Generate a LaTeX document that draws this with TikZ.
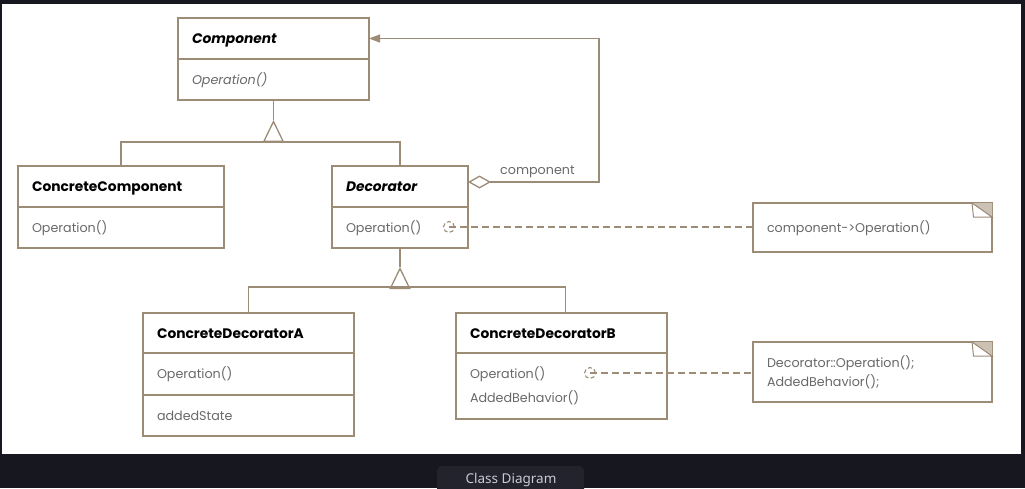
\documentclass[tikz,border=0pt]{standalone}
\usepackage{fontspec}
\setmainfont{Poppins}
\newfontfamily\capfont{Noto Sans}
\usetikzlibrary{positioning,arrows.meta}
\definecolor{umlline}{RGB}{156,139,117}
\definecolor{umlfold}{RGB}{203,193,181}
\definecolor{umltext}{RGB}{105,105,105}
\definecolor{pagebg}{RGB}{22,23,31}
\definecolor{tabbg}{RGB}{34,35,44}
\definecolor{captext}{RGB}{200,202,212}
\begin{document}
\begin{tikzpicture}[x=1pt,y=-1pt,font=\fontsize{12.7}{14}\selectfont]
\tikzstyle{classname} = [rectangle, draw=umlline, line width=1.3pt, outer sep=0pt, anchor=north west, minimum height=41pt, inner xsep=14pt, text height=10pt, text depth=0pt, align=left, text=black, font=\fontsize{13.8}{15}\selectfont\bfseries]
\tikzstyle{abstract} = [font=\fontsize{13.8}{15}\selectfont\bfseries\itshape]
\tikzstyle{classpart} = [rectangle, draw=umlline, line width=1.3pt, outer sep=0pt, minimum height=41pt, inner xsep=14pt, text height=9pt, text depth=0pt, align=left, text=umltext]
\tikzstyle{note} = [rectangle, draw=umlline, line width=1.3pt, outer sep=0pt, anchor=north west, inner xsep=14pt, text height=9pt, text depth=0pt, align=left, text=umltext, text width=211pt]
\tikzstyle{callpt} = [circle, draw=umlline, dash pattern=on 4pt off 2.5pt, line width=1.1pt, minimum size=11pt, inner sep=0pt]
\tikzstyle{link} = [draw=umlline, line width=1.3pt]
\tikzstyle{inherit} = [link, -{Triangle[open, length=22pt, width=21pt]}]
\tikzstyle{calllink} = [draw=umlline, line width=1.2pt, dash pattern=on 7pt off 4pt]
% frame and caption tab
\clip (0,0) rectangle (1025,488);
\fill[pagebg] (0,0) rectangle (1025,488);
\fill[white] (2,4) rectangle (1021,454);
\fill[tabbg, rounded corners=5pt] (437,466) rectangle (584,500);
\node (caption) [anchor=base, text=captext, font=\capfont\fontsize{13.5}{16}\selectfont] at (511,483) {Class Diagram};
% classes
\node (comp) [classname, abstract, text width=163pt] at (178,18) {Component};
\node (compops) [classpart, text width=163pt, below=0pt of comp, font=\fontsize{12.7}{14}\selectfont\itshape] {Operation()};
\node (cc) [classname, text width=178pt] at (18,166) {ConcreteComponent};
\node (ccops) [classpart, text width=178pt, below=0pt of cc] {Operation()};
\node (deco) [classname, abstract, text width=108pt] at (332,166) {Decorator};
\node (decoops) [classpart, text width=108pt, below=0pt of deco] {Operation()};
\node (cda) [classname, text width=183pt, minimum height=40pt] at (143,313) {ConcreteDecoratorA};
\node (cdaops) [classpart, text width=183pt, minimum height=42pt, below=0pt of cda] {Operation()};
\node (cdastate) [classpart, text width=183pt, below=0pt of cdaops] {addedState};
\node (cdb) [classname, text width=183pt, minimum height=40pt] at (456,313) {ConcreteDecoratorB};
\node (cdbops) [classpart, text width=183pt, minimum height=66pt, text depth=24pt, below=0pt of cdb, font=\fontsize{12.7}{24}\selectfont] {Operation()\\AddedBehavior()};
% notes
\node (note1) [note, minimum height=49pt] at (753,203) {component->Operation()};
\node (note2) [note, minimum height=60pt, text depth=19pt, font=\fontsize{12.7}{19}\selectfont] at (753,342) {Decorator::Operation();\\AddedBehavior();};
\foreach \n in {note1,note2} {
  \fill[umlfold] ([xshift=-20pt]\n.north east) -- (\n.north east) -- ([yshift=-14pt]\n.north east) -- cycle;
  \draw[umlline, line width=1pt] ([xshift=-20pt]\n.north east) -- ([xshift=-18.5pt,yshift=-14pt]\n.north east) -- ([yshift=-14pt]\n.north east) -- cycle;
}
% generalizations
\coordinate (gen1) at ([yshift=-42pt]compops.south);
\coordinate (tip1) at ([yshift=-20pt]compops.south);
\draw[link] (cc.north) |- (gen1) -| (deco.north);
\draw[inherit] (gen1) -- (tip1);
\draw[link] (tip1) -- (compops.south);
\coordinate (gen2) at ([yshift=-39pt]decoops.south);
\coordinate (tip2) at ([yshift=-19pt]decoops.south);
\draw[link] (cda.north) |- (gen2) -| ([xshift=4pt]cdb.north);
\draw[inherit] (gen2) -- (tip2);
\draw[link] (tip2) -- (decoops.south);
% aggregation
\draw[link, {Diamond[open, length=23pt, width=13pt]}-{Triangle[length=11pt, width=8pt]}] ([yshift=4.5pt]deco.east) -- node[above, pos=0.53, text=umltext] {component} ++(131,0) |- (comp.east);
% calls
\node (call1) [callpt] at (449,227) {};
\node (call2) [callpt] at (590,373) {};
\draw[calllink] (call1.center) -- (call1.center -| note1.west);
\draw[calllink] (call2.center) -- (call2.center -| note2.west);
\end{tikzpicture}
\end{document}
